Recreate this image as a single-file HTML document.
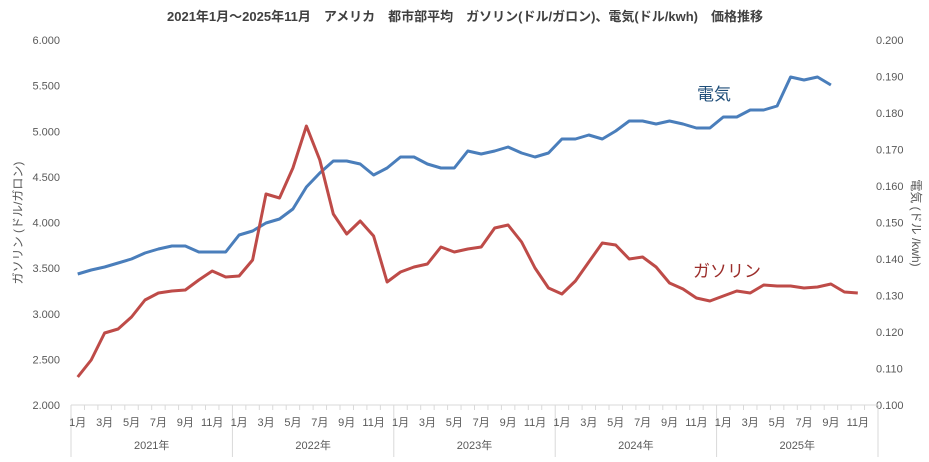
<!DOCTYPE html>
<html><head><meta charset="utf-8"><style>
body{margin:0;background:#fff}
svg text{font-family:"Liberation Sans","Noto Sans CJK JP",sans-serif;fill:#595959}
</style></head><body>
<svg width="929" height="457" viewBox="0 0 929 457" xmlns="http://www.w3.org/2000/svg">
<rect width="929" height="457" fill="#fff"/>
<text x="465" y="21" text-anchor="middle" font-size="13" font-weight="bold" fill="#404040" style="fill:#404040">2021年1月～2025年11月　アメリカ　都市部平均　ガソリン(ドル/ガロン)、電気(ドル/kwh)　価格推移</text>
<g font-size="11" text-anchor="end" id="ly"></g>
<g font-size="11" id="ry"></g>
<text transform="translate(22,223) rotate(-90)" font-size="12" text-anchor="middle">ガソリン (ドル/ガロン)</text>
<text transform="translate(912,223) rotate(90)" font-size="12" text-anchor="middle">電気 (ドル /kwh)</text>
<line x1="71" y1="405" x2="878" y2="405" stroke="#d9d9d9"/>
<g id="xt" stroke="#d9d9d9"></g>
<g id="xl" font-size="11" text-anchor="middle"></g>
<polyline id="el" fill="none" stroke="#4a7ebb" stroke-width="3" stroke-linejoin="round"/>
<polyline id="ga" fill="none" stroke="#be4b48" stroke-width="3" stroke-linejoin="round"/>
<text x="697" y="100" font-size="17" style="fill:#1f4e79">電気</text>
<text x="693" y="277" font-size="17" style="fill:#9b2d2a">ガソリン</text>
</svg>
<script>
var ns="http://www.w3.org/2000/svg";
function mk(p,t,a,txt){var e=document.createElementNS(ns,t);for(var k in a)e.setAttribute(k,a[k]);if(txt!=null)e.textContent=txt;document.getElementById(p).appendChild(e);}
for(var i=0;i<=8;i++){var v=6-i*0.5,y=40+i*45.625;
mk("ly","text",{x:60,y:y+4},v.toFixed(3));}
for(var i=0;i<=10;i++){var y=40+i*36.5;
mk("ry","text",{x:876,y:y+4},(0.2-i*0.01).toFixed(3));}
var w=807/60;
for(var i=0;i<=60;i++){var x=71+i*w;mk("xt","line",{x1:x,y1:405,x2:x,y2:(i%12==0?457:410)});}
for(var i=0;i<60;i+=2){var m=i%12+1;mk("xl","text",{x:71+(i+0.5)*w,y:426},m+"月");}
for(var j=0;j<5;j++)mk("xl","text",{x:71+(j*12+6)*w,y:449},(2021+j)+"年");
var g=[377,360,333,329,317,300,293,291,290,280,271,277,276,260,194,198,168,126,160,214,234,221,236,282,272,267,264,247,252,249,247,228,225,242,268,288,294,281,262,243,245,259,257,267,283,289,298,301,296,291,293,285,286,286,288,287,284,292,293];
var e=[274,270,267,263,259,253,249,246,246,252,252,252,235,231,223,219,209,187,173,161,161,164,175,168,157,157,164,168,168,151,154,151,147,153,157,153,139,139,135,139,131,121,121,124,121,124,128,128,117,117,110,110,106,77,80,77,85];
function pts(a){return a.map(function(y,i){return (71+(i+0.5)*w).toFixed(1)+","+y}).join(" ");}
document.getElementById("ga").setAttribute("points",pts(g));
document.getElementById("el").setAttribute("points",pts(e));
</script>
</body></html>
